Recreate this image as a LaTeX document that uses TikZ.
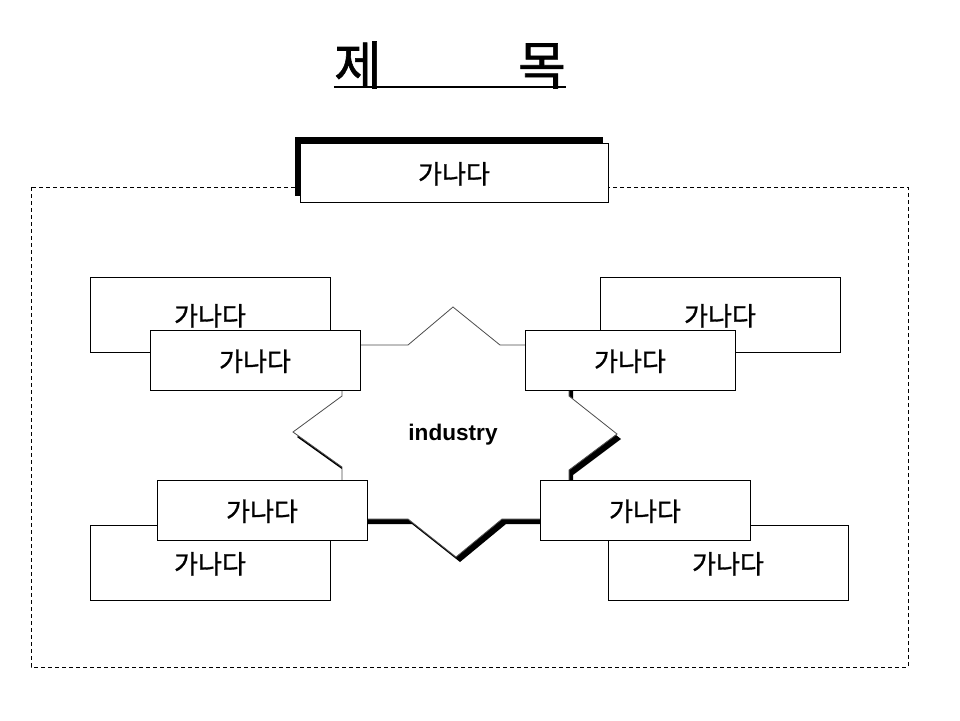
\documentclass[tikz,border=0pt]{standalone}
\usepackage{fontspec}
\setmainfont{Liberation Sans}
\newfontfamily\kr[FakeBold=1.2]{Noto Sans CJK KR}
\usetikzlibrary{positioning,shadows}
\tikzset{
  % Kästen
  box/.style={draw, fill=white, line width=0.5pt, inner sep=0pt, outer sep=0pt,
    text height=1.15em, text depth=0.05em, font=\kr\fontsize{13}{15}\selectfont},
  backbox/.style={box, minimum width=120pt, minimum height=37.5pt},
  frontbox/.style={box, minimum width=105pt, minimum height=30pt},
  headbox/.style={box, minimum width=154pt, minimum height=29.5pt,
    drop shadow={shadow xshift=-2.5pt, shadow yshift=3pt, fill=black, opacity=1}},
  % Rahmen und Stern
  frame/.style={line width=0.5pt, dash pattern=on 2pt off 1.5pt},
  starline/.style={draw=black!70, line width=0.4pt, fill=white},
  starshadow/.style={fill=black},
}
\begin{document}
\begin{tikzpicture}[x=0.5pt, y=-0.5pt, line join=miter]
  \useasboundingbox (0,0) rectangle (960,720);
  % Titel
  \node[inner sep=0pt, font=\kr\fontsize{26}{28}\selectfont] (title) at (450,65) {제\hspace{68pt}목};
  \coordinate (ul) at (0,87);
  \draw[line width=1pt] (title.west |- ul) -- (title.east |- ul);
  % gestrichelter Rahmen
  \draw[frame] (31,187) rectangle (908,667);
  % Stern mit Schatten
  \foreach \dx/\dy/\sty in {4/5/starshadow, 0/0/starline}
    \path[\sty, shift={(\dx,\dy)}] (453,307) -- (500,345) -- (569,345) -- (569,396)
      -- (617,434) -- (569,470) -- (569,519) -- (502,519) -- (456,557) -- (408,519)
      -- (342,519) -- (342,467) -- (293,432) -- (342,396) -- (342,345) -- (408,345) -- cycle;
  \node[font=\bfseries\fontsize{11.3}{13}\selectfont] (ind) at (453,435) {industry};
  % Kopfkasten
  \node[headbox] (head) at (454,172.5) {가나다};
  % hintere Kästen
  \node[backbox] (bnw) at (210,314.5) {가나다};
  \node[backbox] (bne) at (720,314.5) {가나다};
  \node[backbox] (bsw) at (210,562.5) {가나다};
  \node[backbox] (bse) at (728,562.5) {가나다};
  % vordere Kästen
  \node[frontbox] (fnw) at (255,360) {가나다};
  \node[frontbox] (fne) at (630,360) {가나다};
  \node[frontbox] (fsw) at (262,510) {가나다};
  \node[frontbox] (fse) at (645,510) {가나다};
\end{tikzpicture}
\end{document}
